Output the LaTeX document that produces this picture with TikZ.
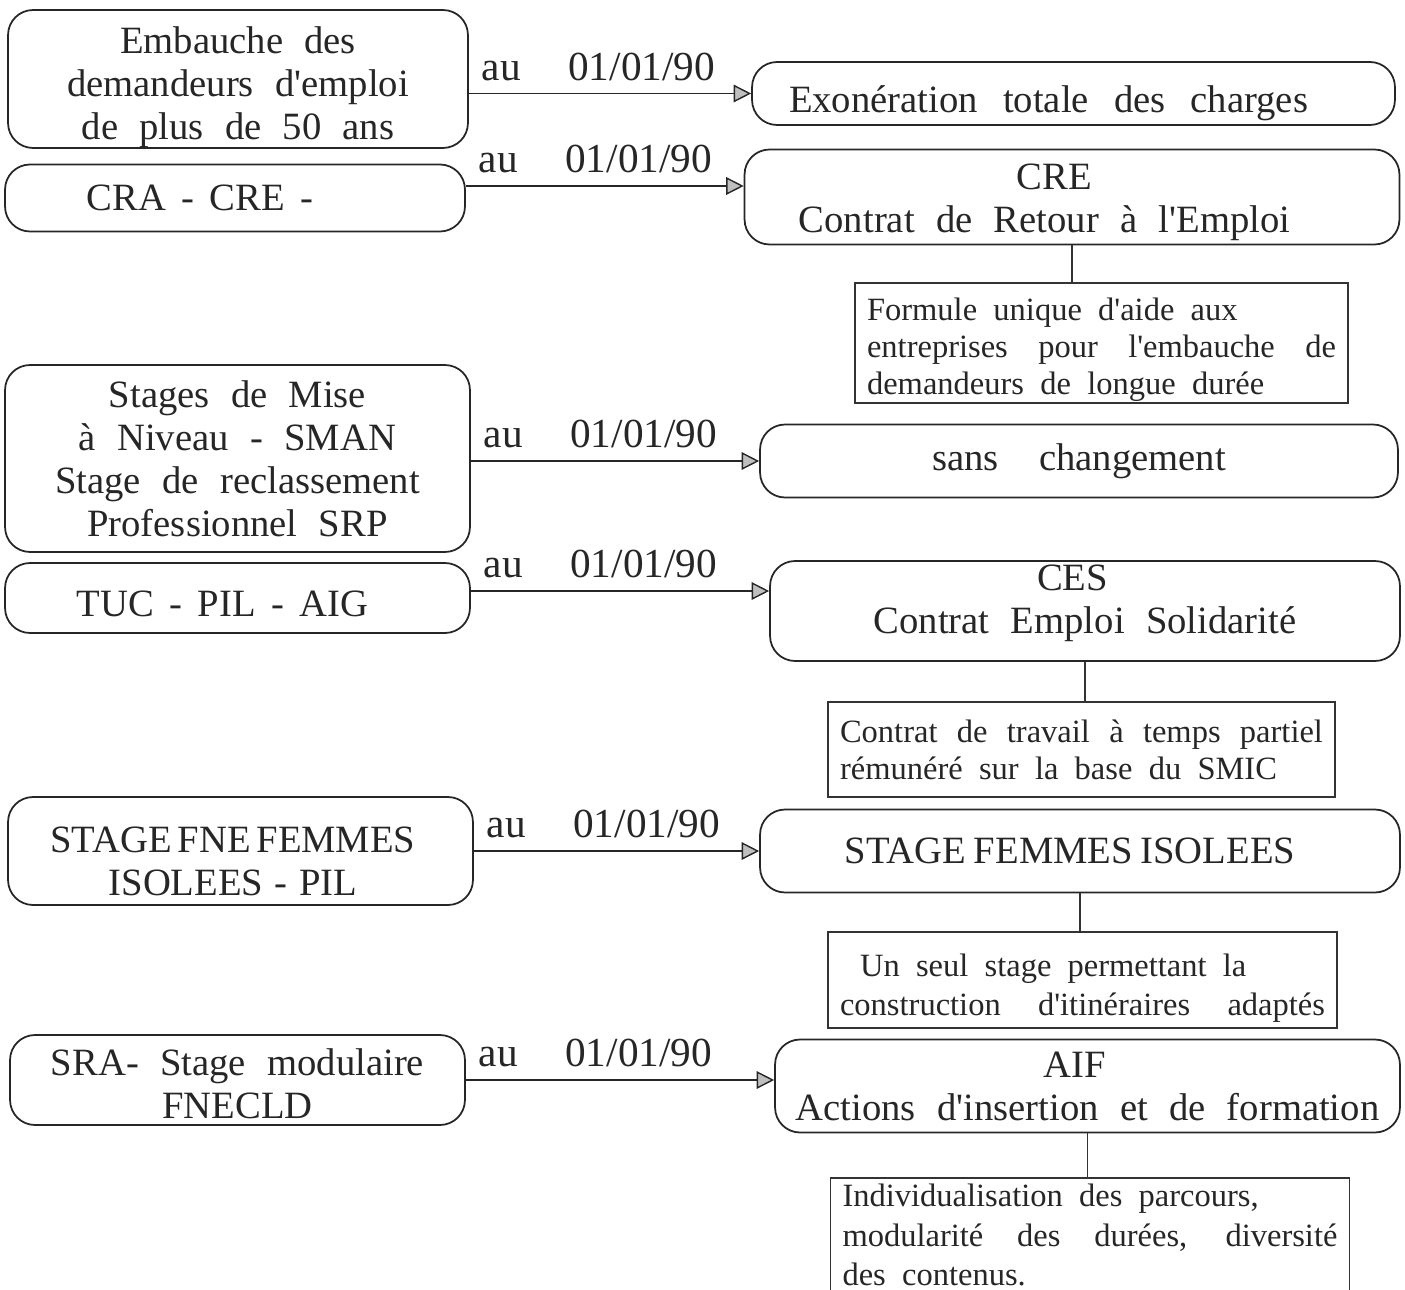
\documentclass[tikz,border=0pt]{standalone}
\usepackage{fontspec}
\setmainfont{Liberation Serif}
\usetikzlibrary{arrows.meta}

\newcommand{\bigtxt}{\fontsize{22}{24.5}\selectfont\spaceskip=0.55em plus 0.2em minus 0.1em}
\newcommand{\smalltxt}{\fontsize{18.5}{21}\selectfont\spaceskip=0.5em plus 1em minus 0.1em}
\newcommand{\datetxt}{\fontsize{23.5}{26}\selectfont}
\newcommand{\ap}{\textquotesingle}
\newcommand{\down}[1]{\rule{0pt}{\dimexpr 0.7em+#1\relax}}
\newcommand{\up}[1]{\rule[-\dimexpr 0.22em+#1\relax]{0pt}{0pt}}
\newcommand{\full}[1]{\makebox[\hsize][s]{#1}}

\tikzset{
  roundbox/.style={draw=black!85, line width=1pt, rounded corners=0.5cm, align=center, inner sep=0pt, font=\bigtxt, text=black!85},
  notebox/.style={draw=black!80, line width=0.8pt, align=flush left, inner xsep=0.24cm, inner ysep=0pt, font=\smalltxt, text=black!85},
  flow/.style={draw=black!85, line width=0.8pt, -{Triangle[length=10pt,width=10pt,fill=black!25]}},
  link/.style={draw=black!80, line width=0.8pt},
  datelbl/.style={font=\datetxt, text=black!85, anchor=south west, inner xsep=7pt, inner ysep=7pt}
}

\begin{document}
\begin{tikzpicture}[x=0.02cm, y=-0.02cm]
    \useasboundingbox (0,0) rectangle (1405,1290);

    \node[roundbox, minimum width=9.2cm, minimum height=2.76cm] (emb) at (238,79) {\down{9pt}Embauche des\\demandeurs d\ap emploi\\de plus de 50 ans};
    \node[roundbox, minimum width=9.2cm, minimum height=1.34cm] (cra) at (235,198) {\spaceskip=0.4em CRA - CRE -\hspace{1.4cm}};
    \node[roundbox, minimum width=9.3cm, minimum height=3.74cm] (sman) at (237.5,458.5) {Stages de Mise\\à Niveau - SMAN\\Stage de reclassement\\Professionnel SRP};
    \node[roundbox, minimum width=9.3cm, minimum height=1.4cm] (tuc) at (237.5,598) {\down{5.7pt}\spaceskip=0.4em TUC - PIL - AIG\hspace{0.6cm}};
    \node[roundbox, minimum width=9.3cm, minimum height=2.16cm] (fne) at (240.5,851) {\down{10.8pt}\spaceskip=0.15em STAGE FNE FEMMES\hspace*{0.3cm}\\ISOLEES\hspace{0.3em}-\hspace{0.3em}PIL\hspace*{0.3cm}};
    \node[roundbox, minimum width=9.1cm, minimum height=1.8cm] (sra) at (237.5,1080) {\down{4pt}SRA- Stage modulaire\\FNECLD};

    \node[roundbox, minimum width=12.86cm, minimum height=1.26cm] (exo) at (1073.5,93.5) {\down{11pt}\spaceskip=0.65em Exonération totale des charges\hspace{1cm}};
    \node[roundbox, minimum width=13.1cm, minimum height=1.9cm] (cre) at (1072,197) {\down{5.7pt}CRE\hspace*{0.7cm}\\Contrat de Retour à l\ap Emploi\hspace*{1.1cm}};
    \node[roundbox, minimum width=12.76cm, minimum height=1.46cm] (sans) at (1079,461) {sans\hspace{0.5em} changement};
    \node[roundbox, minimum width=12.6cm, minimum height=2cm] (ces) at (1085,611) {CES\hspace*{0.5cm}\\Contrat Emploi Solidarité\up{9pt}};
    \node[roundbox, minimum width=12.8cm, minimum height=1.66cm] (sfi) at (1080,851) {\spaceskip=0.2em STAGE FEMMES ISOLEES\hspace{0.4cm}};
    \node[roundbox, minimum width=12.5cm, minimum height=1.86cm] (aif) at (1087.5,1086) {AIF\hspace*{0.5cm}\\Actions d\ap insertion et de formation};

    \node[notebox, text width=9.38cm, minimum height=2.4cm] (formule) at (1101.5,343) {\down{8pt}Formule unique d\ap aide aux\\\full{entreprises pour l\ap embauche de}\\demandeurs de longue durée};
    \node[notebox, text width=9.66cm, minimum height=1.9cm] (travail) at (1081.5,749.5) {\full{Contrat de travail à temps partiel}\\rémunéré sur la base du SMIC};
    \node[notebox, text width=9.7cm, minimum height=1.92cm, font=\smalltxt\fontsize{18.5}{22}\selectfont] (seul) at (1082.5,980) {\down{9pt}\hspace*{0.4cm}Un seul stage permettant la\\\full{construction d\ap itinéraires adaptés}};
    \node[notebox, text width=9.9cm, minimum height=2.52cm, font=\smalltxt\fontsize{18.5}{22.5}\selectfont] (indiv) at (1090,1241) {Individualisation des parcours,\\\full{modularité des durées, diversité}\\des contenus.\up{3pt}};

    \coordinate (a2) at ([yshift=0.24cm]cra.east);
    \coordinate (a4) at ([yshift=0.14cm]tuc.east);

    \draw[flow] (exo.west -| emb.east) -- node[datelbl, pos=0] (d1) {au\hspace{0.95cm}01/01/90} (exo.west);
    \draw[flow] (a2) -- node[datelbl, pos=0] (d2) {au\hspace{0.95cm}01/01/90} (a2 -| cre.west);
    \draw[flow] (sans.west -| sman.east) -- node[datelbl, pos=0] (d3) {au\hspace{0.95cm}01/01/90} (sans.west);
    \draw[flow] (a4) -- node[datelbl, pos=0] (d4) {au\hspace{0.95cm}01/01/90} (a4 -| ces.west);
    \draw[flow] (sfi.west -| fne.east) -- node[datelbl, pos=0] (d5) {au\hspace{0.95cm}01/01/90} (sfi.west);
    \draw[flow] (sra.east) -- node[datelbl, pos=0] (d6) {au\hspace{0.95cm}01/01/90} (sra.east -| aif.west);

    \draw[link] (cre.south) -- (cre.south |- formule.north);
    \draw[link] (ces.south) -- (ces.south |- travail.north);
    \draw[link] (sfi.south) -- (sfi.south |- seul.north);
    \draw[link] (aif.south) -- (aif.south |- indiv.north);
\end{tikzpicture}
\end{document}
